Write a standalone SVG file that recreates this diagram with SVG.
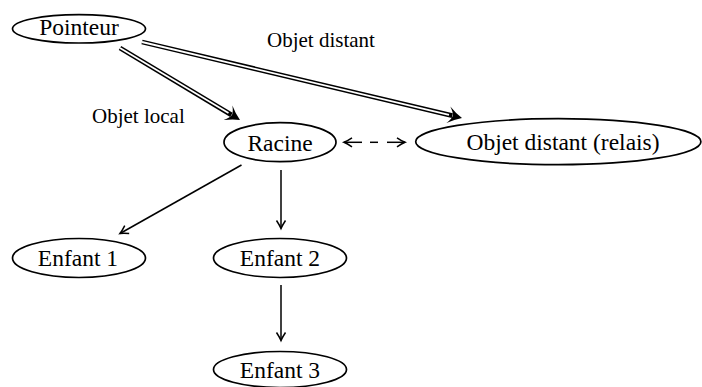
<svg xmlns="http://www.w3.org/2000/svg" width="702" height="387" viewBox="0 0 702 387">
<style>
.node ellipse{fill:#fff;stroke:#000;stroke-width:1.7}
.node text{font-family:"Liberation Serif",serif;font-size:23.5px;text-anchor:middle;fill:#000}
.lbl{font-family:"Liberation Serif",serif;font-size:21px;fill:#000}
.e{stroke:#000;stroke-width:1.5;fill:none}
.dbl{stroke:#000;stroke-width:4.8;fill:none}
.dblw{stroke:#fff;stroke-width:1.8;fill:none}
</style>
<defs>
<marker id="arr" markerUnits="userSpaceOnUse" markerWidth="20" markerHeight="20" viewBox="-10 -10 20 20" refX="0" refY="0" orient="auto">
<path d="M-8,-4.5 Q-3,-1.2 0,0 Q-3,1.2 -8,4.5" fill="none" stroke="#000" stroke-width="1.5"/>
</marker>
<path id="bighead" d="M0,0 Q-7,-3 -14,-8.5 Q-9.5,-3 -9.5,0 Q-9.5,3 -14,8.5 Q-7,3 0,0 Z" fill="#000"/>
</defs>
<g id="connectors">
<line class="dbl" x1="120" y1="48" x2="231.4" y2="114.9"/>
<line class="dblw" x1="120" y1="48" x2="228.5" y2="113.1"/>
<use href="#bighead" transform="translate(240,120) rotate(30.96)"/>
<line class="dbl" x1="142" y1="42" x2="452.3" y2="115.7"/>
<line class="dblw" x1="142" y1="42" x2="449" y2="114.9"/>
<use href="#bighead" transform="translate(462,118) rotate(13.36)"/>
<line class="e" x1="241.5" y1="165" x2="120" y2="233.5" marker-end="url(#arr)"/>
<line class="e" x1="281" y1="170" x2="281" y2="228.5" marker-end="url(#arr)"/>
<line class="e" x1="281" y1="285" x2="281" y2="340.5" marker-end="url(#arr)"/>
<line class="e" x1="362" y1="142.3" x2="344" y2="142.3" marker-end="url(#arr)"/>
<line class="e" x1="370" y1="142.3" x2="378" y2="142.3"/>
<line class="e" x1="387" y1="142.3" x2="405" y2="142.3" marker-end="url(#arr)"/>
<text class="lbl" x="92" y="123">Objet local</text>
<text class="lbl" x="267" y="47">Objet distant</text>
</g>
<g id="pointeur" class="node"><ellipse cx="79" cy="28.8" rx="66.5" ry="14.2"/><text x="79" y="34.5">Pointeur</text></g>
<g id="racine" class="node"><ellipse cx="280" cy="142.2" rx="56" ry="19.5"/><text x="280" y="151">Racine</text></g>
<g id="relais" class="node"><ellipse cx="558.3" cy="141.7" rx="142.6" ry="23"/><text x="563" y="149.5">Objet distant (relais)</text></g>
<g id="enfant1" class="node"><ellipse cx="79" cy="258" rx="66.5" ry="19.5"/><text x="78" y="266">Enfant 1</text></g>
<g id="enfant2" class="node"><ellipse cx="280" cy="258" rx="66.5" ry="19.5"/><text x="280" y="266">Enfant 2</text></g>
<g id="enfant3" class="node"><ellipse cx="280" cy="369.5" rx="66.5" ry="18"/><text x="280" y="378">Enfant 3</text></g>
</svg>
